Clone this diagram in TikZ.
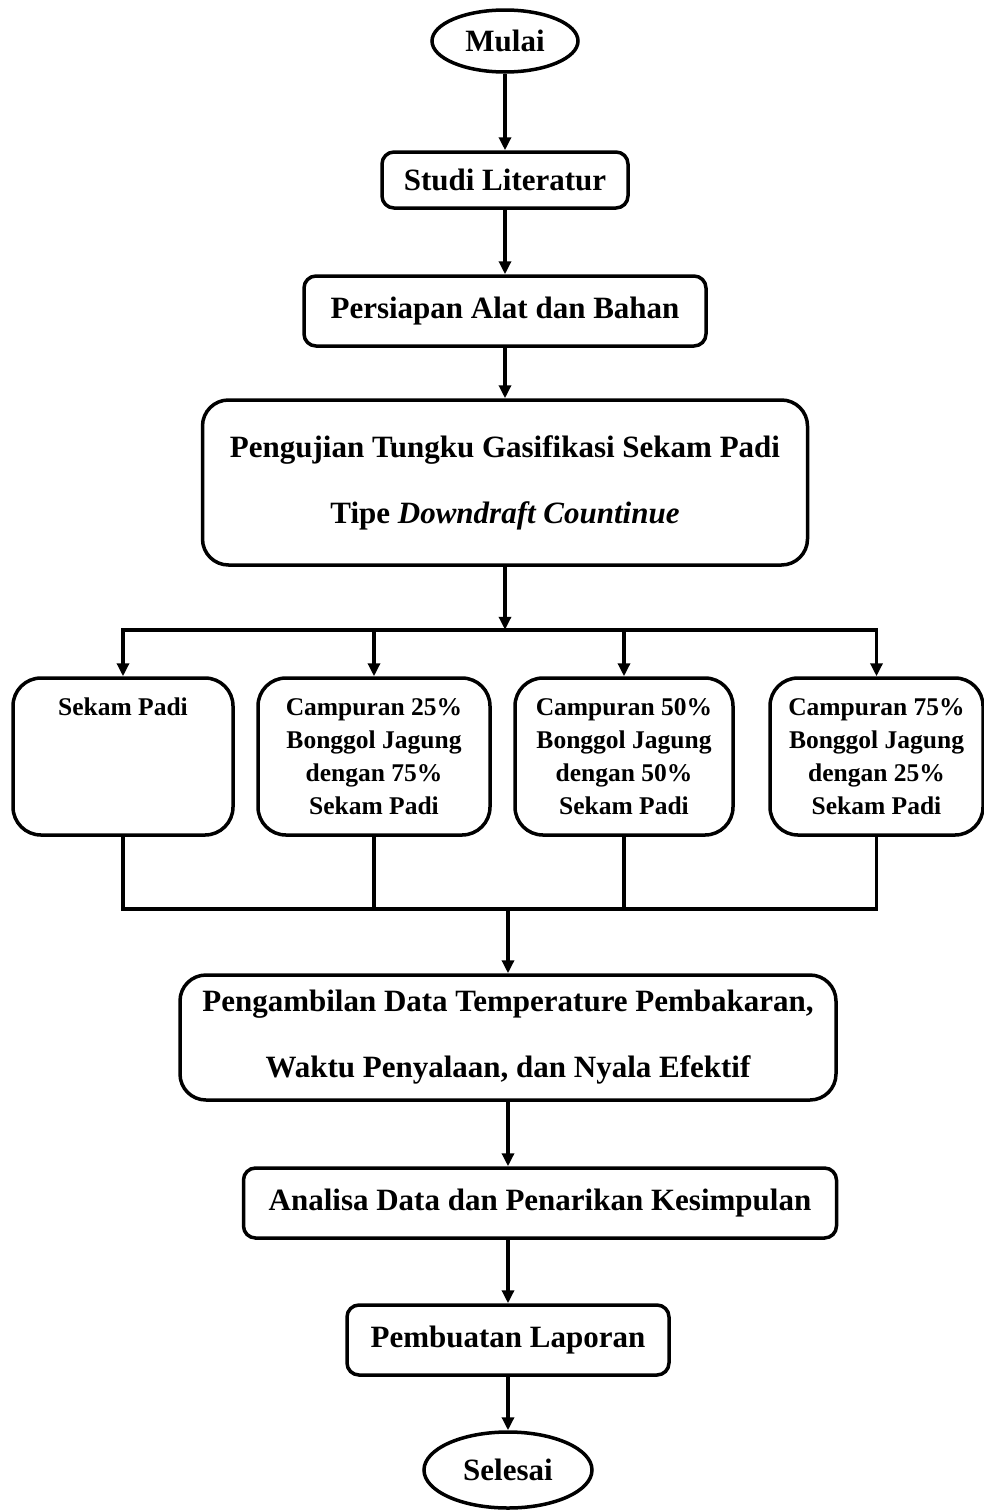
\documentclass[tikz,border=0pt]{standalone}
\usepackage{fontspec}
\setmainfont{Liberation Serif}
\usetikzlibrary{positioning,arrows.meta,shapes.geometric}
\tikzset{
  box/.style={draw,line width=3.5pt,rounded corners=12pt,inner sep=6pt,align=center,font=\fontsize{31}{37}\selectfont\bfseries},
  bigbox/.style={box,rounded corners=26pt,font=\fontsize{31}{66}\selectfont\bfseries},
  mixbox/.style={box,rounded corners=28pt,minimum height=157pt,font=\fontsize{25.5}{33}\selectfont\bfseries},
  term/.style={draw,ellipse,line width=3.5pt,inner sep=2pt,font=\fontsize{31}{37}\selectfont\bfseries},
  flow/.style={-{Triangle[length=13pt,width=12pt]},line width=3.5pt},
  link/.style={line width=3.5pt,line cap=rect}}

\begin{document}
\begin{tikzpicture}
  \useasboundingbox (0,0) rectangle (984pt,-1510pt);
  \node[term,minimum width=146pt,minimum height=62pt] (mulai) at (505pt,-41pt) {Mulai};
  \node[box,minimum width=246pt,minimum height=56pt,below=76.5pt of mulai] (studi) {Studi Literatur};
  \node[box,minimum width=402pt,minimum height=70pt,below=64.5pt of studi] (siap) {Persiapan Alat dan Bahan};
  \node[bigbox,minimum width=605pt,minimum height=165pt,below=50.5pt of siap] (uji) {Pengujian Tungku Gasifikasi Sekam Padi\\Tipe \textit{Downdraft Countinue}};
  % four fuel mixtures
  \node[mixbox,minimum width=220pt,text depth=99pt] (sekam) at (123pt,-756.5pt) {Sekam Padi};
  \node[mixbox,minimum width=232pt,right=21.5pt of sekam] (mix25) {Campuran 25\%\\Bonggol Jagung\\dengan 75\%\\Sekam Padi};
  \node[mixbox,minimum width=218pt,right=21.5pt of mix25] (mix50) {Campuran 50\%\\Bonggol Jagung\\dengan 50\%\\Sekam Padi};
  \node[mixbox,minimum width=213pt,right=33.5pt of mix50] (mix75) {Campuran 75\%\\Bonggol Jagung\\dengan 25\%\\Sekam Padi};
  \node[bigbox,minimum width=656pt,minimum height=125pt] (ambil) at (508pt,-1037.5pt) {Pengambilan Data Temperature Pembakaran,\\Waktu Penyalaan, dan Nyala Efektif};
  \node[box,minimum width=593pt,minimum height=70pt,below=64.5pt of ambil,xshift=32pt] (analisa) {Analisa Data dan Penarikan Kesimpulan};
  \node[box,minimum width=322pt,minimum height=70pt,below=63.5pt of analisa,xshift=-32pt] (lapor) {Pembuatan Laporan};
  \node[term,minimum width=168pt,minimum height=76pt,below=53.5pt of lapor] (selesai) {Selesai};
  \draw[flow] (mulai) -- (studi);
  \draw[flow] (studi) -- (siap);
  \draw[flow] (siap) -- (uji);
  \draw[flow] (uji.south) -- ++(0,-63pt) coordinate (fork);
  \draw[link] (sekam.north |- fork) -- (mix75.north |- fork);
  \foreach \b in {sekam,mix25,mix50,mix75}
    \draw[flow] (\b.north |- fork) -- (\b.north);
  \draw[link] (sekam.south) -- ++(0,-72pt) coordinate (join) -- (join -| mix75.south) -- (mix75.south);
  \draw[link] (mix25.south) -- (mix25.south |- join);
  \draw[link] (mix50.south) -- (mix50.south |- join);
  \draw[flow] (join -| ambil.north) -- (ambil.north);
  \draw[flow] (ambil.south) -- (ambil.south |- analisa.north);
  \draw[flow] (lapor.north |- analisa.south) -- (lapor.north);
  \draw[flow] (lapor) -- (selesai);
\end{tikzpicture}
\end{document}
